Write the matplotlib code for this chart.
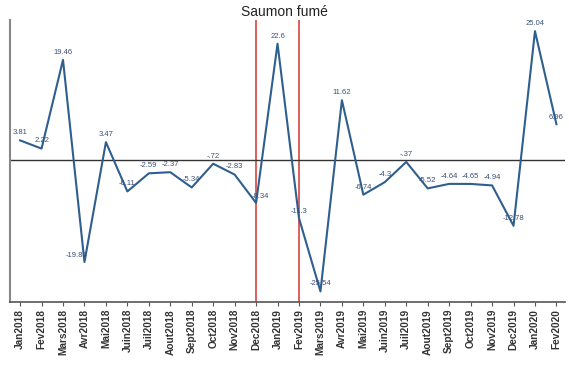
import matplotlib
matplotlib.use("Agg")
import matplotlib.pyplot as plt

plt.rcParams["font.family"] = ["Liberation Sans", "DejaVu Sans"]

months = ["Jan2018", "Fev2018", "Mars2018", "Avr2018", "Mai2018", "Juin2018",
          "Juil2018", "Aout2018", "Sept2018", "Oct2018", "Nov2018", "Dec2018",
          "Jan2019", "Fev2019", "Mars2019", "Avr2019", "Mai2019", "Juin2019",
          "Juil2019", "Aout2019", "Sept2019", "Oct2019", "Nov2019", "Dec2019",
          "Jan2020", "Fev2020"]
values = [3.81, 2.22, 19.46, -19.83, 3.47, -6.11, -2.59, -2.37, -5.34, -0.72,
          -2.83, -8.34, 22.6, -11.3, -25.54, 11.62, -6.74, -4.3, -0.37, -5.52,
          -4.64, -4.65, -4.94, -12.78, 25.04, 6.96]
labels = ["3.81", "2.22", "19.46", "-19.83", "3.47", "-6.11", "-2.59", "-2.37",
          "-5.34", "-.72", "-2.83", "-8.34", "22.6", "-11.3", "-25.54", "11.62",
          "-6.74", "-4.3", "-.37", "-5.52", "-4.64", "-4.65", "-4.94", "-12.78",
          "25.04", "6.96"]
marked = ["Dec2018", "Fev2019"]
title = "Saumon fumé"

# label offsets in points (dx, dy)
offsets = {"Avr2018": (-6, 2), "Mars2019": (0, 3), "Dec2019": (0, 3),
           "Fev2019": (0, 2), "Dec2018": (3, 2), "Fev2020": (0, 2)}

fig = plt.figure(figsize=(5.69, 3.65), dpi=100)
ax = fig.add_axes([0.0176, 0.1726, 0.9754, 0.7724])
x = list(range(len(months)))
ax.plot(x, values, color="#2f5f8f", lw=1.5, zorder=3)
ax.axhline(0, color="#333333", lw=1.0, zorder=2)
for m in marked:
    ax.axvline(months.index(m), color="#d9534f", lw=1.3, zorder=1)
for m, xi, v, lab in zip(months, x, values, labels):
    dx, dy = offsets.get(m, (0, 3))
    ax.annotate(lab, (xi, v), xytext=(dx, dy), textcoords="offset points",
                ha="center", va="bottom", fontsize=5.5, color="#3a4f7a", zorder=4)
ax.set_xlim(-0.47, 25.4)
ax.set_ylim(-27.6, 27.2)
ax.set_xticks(x)
ax.set_xticklabels(months, rotation=90, fontsize=7.3, fontweight="bold", color="#333333")
ax.set_yticks([])
for s in ["top", "right"]:
    ax.spines[s].set_visible(False)
ax.spines["left"].set_color("#888888")
ax.spines["left"].set_linewidth(1.5)
ax.spines["bottom"].set_color("#555555")
ax.spines["bottom"].set_linewidth(1.2)
ax.tick_params(axis="x", length=3, color="#555555", pad=2)
fig.text(0.5, 0.985, title, ha="center", va="top", fontsize=10, color="#222222")
fig.savefig("out.png", dpi=100)
